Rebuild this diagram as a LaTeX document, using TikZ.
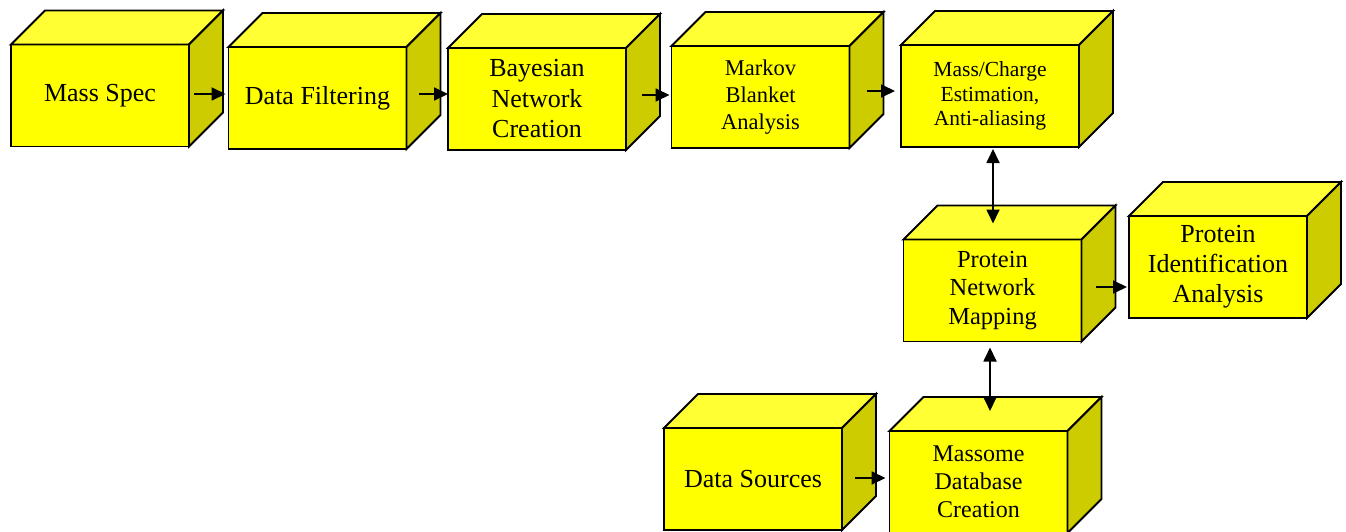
\documentclass[tikz,border=0pt]{standalone}
\usepackage{fontspec}
\setmainfont{Liberation Serif}
\usetikzlibrary{calc,arrows.meta}
\definecolor{frontyellow}{RGB}{255,255,0}
\definecolor{topyellow}{RGB}{255,255,51}
\definecolor{sideyellow}{RGB}{204,204,0}
\tikzset{
  cube/.style={draw, line width=1.9pt, fill=frontyellow, minimum width=178pt,
    minimum height=102pt, inner sep=0pt, outer sep=0pt, align=center,
    font=\fontsize{26}{30.5}\selectfont},
  face/.style={draw, line width=1.9pt, line join=miter},
  link/.style={line width=1.8pt, -{Triangle[length=14pt,width=13pt]}},
  twoway/.style={line width=1.8pt,
    {Triangle[length=14pt,width=13pt]}-{Triangle[length=14pt,width=13pt]}},
}
\begin{document}
\begin{tikzpicture}[x=1pt,y=-1pt]
\useasboundingbox (0,0) rectangle (1346,532);
\fill[white] (0,0) rectangle (1346,532);

% front faces of the blocks
\node[cube] (ms)  at (100,95.5)  {Mass Spec};
\node[cube] (df)  at (317.5,98)  {Data Filtering};
\node[cube] (bay) at (537,99)    {Bayesian\\Network\\Creation};
\node[cube, font=\fontsize{22.5}{27}\selectfont] (mbk) at (760.5,97) {Markov\\Blanket\\Analysis};
\node[cube, font=\fontsize{21.5}{24.5}\selectfont] (mce) at (990,96) {Mass/Charge\\Estimation,\\Anti-aliasing};
\node[cube, font=\fontsize{24.5}{28.5}\selectfont] (png) at (992.5,290.5) {Protein\\Network\\Mapping};
\node[cube, font=\fontsize{26}{30}\selectfont] (pia) at (1218,267) {Protein\\Identification\\Analysis};
\node[cube] (ds)  at (753,479)   {Data Sources};
\node[cube, font=\fontsize{24}{28}\selectfont] (mdc) at (978.5,482) {Massome\\Database\\Creation};

% top and side faces giving each block its depth
\foreach \n in {ms,df,bay,mbk,mce,png,pia,ds,mdc}{
  \filldraw[face, fill=topyellow] (\n.north west) -- ++(34,-34)
    -- ($(\n.north east)+(34,-34)$) -- (\n.north east) -- cycle;
  \filldraw[face, fill=sideyellow] (\n.north east) -- ++(34,-34)
    -- ($(\n.south east)+(34,-34)$) -- (\n.south east) -- cycle;
}

% connectors
\draw[link] ($(ms.east)+(5,-1.5)$) -- ($(df.west |- ms.east)+(-3,-1.5)$);
\draw[link] ($(df.east)+(12,-4)$) -- ($(bay.west |- df.east)+(0,-4)$);
\draw[link] ($(bay.east)+(16,-4)$) -- ($(mbk.west |- bay.east)+(-2,-4)$);
\draw[link] ($(mbk.east)+(17,-6)$) -- ($(mce.west |- mbk.east)+(-6,-6)$);
\draw[twoway] ($(mce.south)+(3,2)$) -- ($(mce.south |- png.north)+(3,-16)$);
\draw[link] ($(png.east)+(14,-3.5)$) -- ($(pia.west |- png.east)+(-2,-3.5)$);
\draw[twoway] ($(png.south)+(-2.5,6)$) -- ($(png.south |- mdc.north)+(-2.5,-20)$);
\draw[link] ($(ds.east)+(13,-1)$) -- ($(mdc.west |- ds.east)+(-4,-1)$);
\end{tikzpicture}
\end{document}
